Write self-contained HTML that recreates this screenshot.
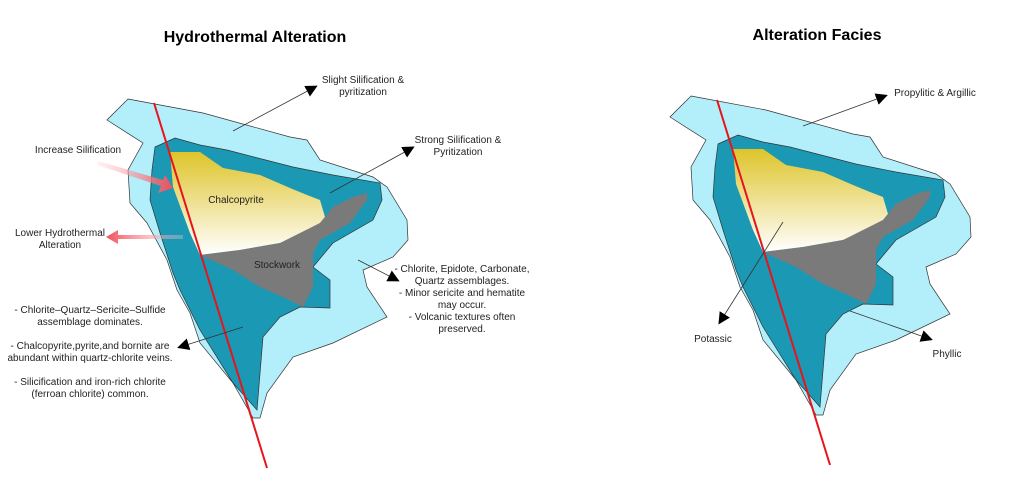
<!DOCTYPE html>
<html><head><style>
body{margin:0;background:#fff;}
svg{display:block;font-family:"Liberation Sans",sans-serif;}
</style></head><body>
<svg width="1024" height="500" viewBox="0 0 1024 500" xmlns="http://www.w3.org/2000/svg">
<defs>
<linearGradient id="yg" x1="0" y1="0" x2="0" y2="1">
<stop offset="0" stop-color="#dec42a"/><stop offset="1" stop-color="#ffffff"/>
</linearGradient>
<linearGradient id="pk" x1="0" y1="0" x2="1" y2="0">
<stop offset="0" stop-color="#ffd0d4" stop-opacity="0.3"/><stop offset="1" stop-color="#f0505a"/>
</linearGradient>
<linearGradient id="pk2" x1="1" y1="0" x2="0" y2="0">
<stop offset="0" stop-color="#ffd0d4" stop-opacity="0.3"/><stop offset="1" stop-color="#f0505a"/>
</linearGradient>
<marker id="ah" markerWidth="12" markerHeight="12" refX="9" refY="6" orient="auto" markerUnits="userSpaceOnUse"><path d="M0,0 L12,6 L0,12 z" fill="#000"/></marker>
<g id="body">
<polygon points="128,99 203,113 290,137 307,140 320,160 373,177 387,187 407,220 408,240 393,257 363,270 367,287 387,317 333,343 293,357 267,393 260,418 253,418 233,383 200,343 190,313 177,290 167,260 147,223 130,203 128,170 143,143 107,120" fill="#b3eefb" stroke="#333" stroke-width="0.7"/>
<polygon points="155,147 175,138 200,145 227,150 293,167 333,175 380,183 382,200 373,220 333,243 313,267 330,280 330,308 300,307 280,317 263,337 257,410 233,383 200,330 180,290 173,273 160,233 150,200 152,170" fill="#1a98b4" stroke="#333" stroke-width="0.7"/>
<polygon points="170,152 200,152 223,168 260,175 290,188 307,195 320,200 325,217 320,223 290,240 280,243 240,250 200,255 190,233 173,187" fill="url(#yg)"/>
<polygon points="200,255 240,250 280,243 320,223 333,207 353,197 367,193 367,200 350,223 320,240 313,253 313,287 303,307 283,297 260,287 233,270" fill="#7a7a7a"/>
<line x1="154" y1="103" x2="267" y2="468" stroke="#e8141c" stroke-width="2"/>
</g>
</defs>
<use href="#body"/>
<use href="#body" transform="translate(563,-3)"/>

<g font-size="10" fill="#222" text-anchor="middle">
<text x="255" y="42" font-size="16" font-weight="bold" fill="#000">Hydrothermal Alteration</text>
<text x="817" y="40" font-size="16" font-weight="bold" fill="#000">Alteration Facies</text>
<text x="363" y="83">Slight Silification &amp;</text>
<text x="363" y="95">pyritization</text>
<text x="458" y="143">Strong Silification &amp;</text>
<text x="458" y="155">Pyritization</text>
<text x="78" y="153">Increase Silification</text>
<text x="60" y="236">Lower Hydrothermal</text>
<text x="60" y="248">Alteration</text>
<text x="236" y="203">Chalcopyrite</text>
<text x="277" y="268">Stockwork</text>
<text x="462" y="272">- Chlorite, Epidote, Carbonate,</text>
<text x="462" y="284">Quartz assemblages.</text>
<text x="462" y="296">- Minor sericite and hematite</text>
<text x="462" y="308">may occur.</text>
<text x="462" y="320">- Volcanic textures often</text>
<text x="462" y="332">preserved.</text>
<text x="90" y="313">- Chlorite–Quartz–Sericite–Sulfide</text>
<text x="90" y="325">assemblage dominates.</text>
<text x="90" y="349">- Chalcopyrite,pyrite,and bornite are</text>
<text x="90" y="361">abundant within quartz-chlorite veins.</text>
<text x="90" y="385">- Silicification and iron-rich chlorite</text>
<text x="90" y="397">(ferroan chlorite) common.</text>
<text x="935" y="96">Propylitic &amp; Argillic</text>
<text x="713" y="342">Potassic</text>
<text x="947" y="357">Phyllic</text>
</g>

<g stroke="#333" stroke-width="0.8" marker-end="url(#ah)">
<line x1="233" y1="131" x2="315" y2="87"/>
<line x1="330" y1="193" x2="412" y2="148"/>
<line x1="358" y1="260" x2="397" y2="280"/>
<line x1="243" y1="327" x2="180" y2="347"/>
<line x1="803" y1="126" x2="885" y2="96"/>
<line x1="783" y1="222" x2="720" y2="322"/>
<line x1="850" y1="311" x2="930" y2="339"/>
</g>
<g>
<polygon points="98,161 163,180 165,175 173,188 158,193 161,186 97,165" fill="url(#pk)"/>
<polygon points="183,235 118,235 118,230 106,237 118,244 118,239 183,239" fill="url(#pk2)"/>
</g>
</svg>
</body></html>
